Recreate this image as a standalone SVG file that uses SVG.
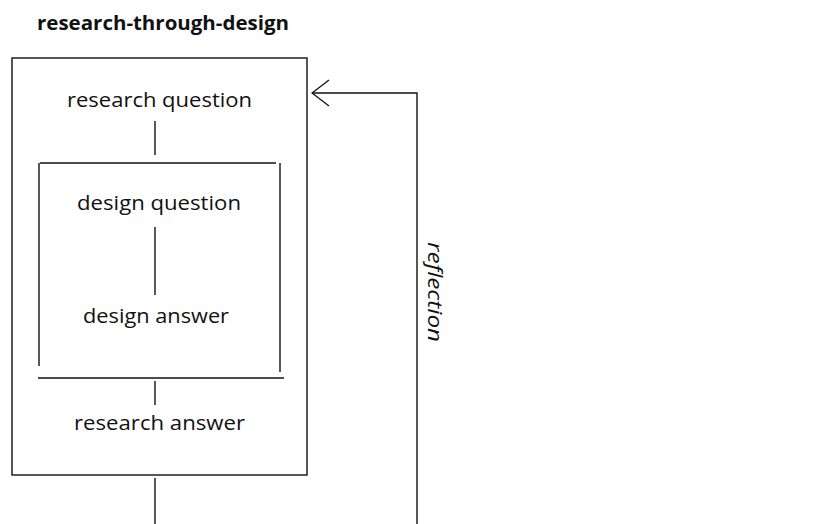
<svg xmlns="http://www.w3.org/2000/svg" width="827" height="524" viewBox="0 0 827 524">
<defs>
<style>
.t{font-family:"Open Sans","Liberation Sans",sans-serif;font-size:20px;fill:#111}
.ln{stroke:#111;stroke-width:1.4;fill:none}
</style>
<marker id="open" viewBox="0 0 20 30" refX="19" refY="15" markerWidth="20" markerHeight="30" markerUnits="userSpaceOnUse" orient="auto">
<path d="M2,2 L19,15 L2,28" fill="none" stroke="#111" stroke-width="1.3"/>
</marker>
</defs>
<rect width="827" height="524" fill="#fff"/>
<text x="37" y="30" class="t" font-weight="bold" textLength="252" lengthAdjust="spacingAndGlyphs">research-through-design</text>
<g id="outer">
<rect x="12" y="58" width="295" height="417" class="ln"/>
</g>
<g id="research-question">
<text x="67" y="107" class="t" textLength="185" lengthAdjust="spacingAndGlyphs">research question</text>
</g>
<g id="inner">
<line x1="40" y1="163" x2="276" y2="163" class="ln"/>
<line x1="39" y1="163" x2="39" y2="366" class="ln"/>
<line x1="280" y1="163" x2="280" y2="372" class="ln"/>
<line x1="38" y1="378" x2="284" y2="378" class="ln"/>
</g>
<g id="design-question">
<text x="77" y="210" class="t" textLength="164" lengthAdjust="spacingAndGlyphs">design question</text>
</g>
<g id="design-answer">
<text x="83" y="323" class="t" textLength="146" lengthAdjust="spacingAndGlyphs">design answer</text>
</g>
<g id="research-answer">
<text x="74" y="430" class="t" textLength="171" lengthAdjust="spacingAndGlyphs">research answer</text>
</g>
<g id="connectors">
<line x1="155" y1="121" x2="155" y2="155" class="ln"/>
<line x1="155" y1="227" x2="155" y2="295" class="ln"/>
<line x1="155" y1="381" x2="155" y2="405" class="ln"/>
<line x1="155" y1="478" x2="155" y2="524" class="ln"/>
<path d="M417,524 L417,93 L312,93" class="ln" marker-end="url(#open)"/>
<text transform="translate(428,242) rotate(90)" class="t" font-size="18" font-style="italic" textLength="100" lengthAdjust="spacingAndGlyphs">reflection</text>
</g>
</svg>
